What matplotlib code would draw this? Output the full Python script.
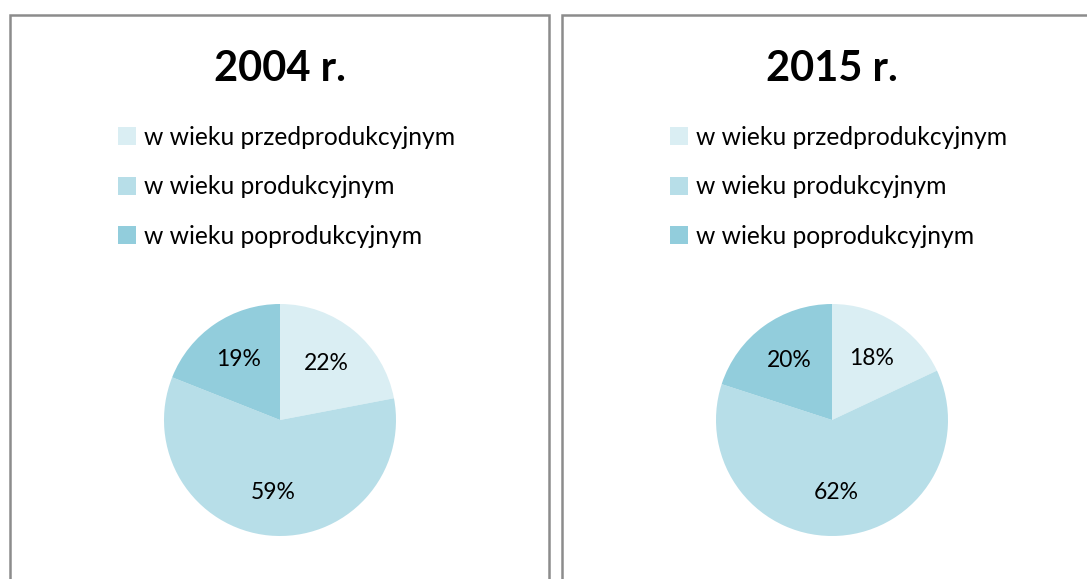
import matplotlib
matplotlib.use("Agg")
import matplotlib.pyplot as plt
from matplotlib.patches import Rectangle, Patch

plt.rcParams['font.family'] = ['Lato', 'DejaVu Sans']

# data
years = ['2004 r.', '2015 r.']
groups = ['w wieku przedprodukcyjnym', 'w wieku produkcyjnym', 'w wieku poprodukcyjnym']
shares_2004 = [22, 59, 19]
shares_2015 = [18, 62, 20]
colors = ['#DAEEF3', '#B7DEE8', '#92CDDC']

W, H = 1087, 579
fig = plt.figure(figsize=(W / 100, H / 100), dpi=100)

def px(x, y, w, h):
    # pixel box (top-left origin) -> figure fraction
    return [x / W, 1 - (y + h) / H, w / W, h / H]

# panel borders
for x0, x1 in [(10, 549), (562, 1100)]:
    b = px(x0, 15, x1 - x0, 600)
    fig.patches.append(Rectangle((b[0], b[1]), b[2], b[3], transform=fig.transFigure,
                                 fill=False, edgecolor='#8c8c8c', linewidth=1.8))

def makePie(cx, title, values):
    r = 116
    ax = fig.add_axes(px(cx - r, 420 - r, 2 * r, 2 * r))
    ax.pie(values, colors=colors, startangle=90, counterclock=False,
           autopct=lambda p: '%d%%' % round(p), pctdistance=0.63,
           textprops={'fontsize': 16.5, 'color': 'black'})
    ax.set_xlim(-1, 1)
    ax.set_ylim(-1, 1)
    ax.set_aspect('equal')
    fig.text(cx / W, 1 - 69 / H, title, ha='center', va='center',
             fontsize=30, fontweight='bold')
    handles = [Patch(facecolor=c, edgecolor='none') for c in colors]
    fig.legend(handles, groups, loc='upper left',
               bbox_to_anchor=((cx - 162) / W, 1 - 126 / H),
               frameon=False, fontsize=17.7, handlelength=0.75,
               handleheight=0.75, handletextpad=0.3, labelspacing=1.07,
               borderpad=0, borderaxespad=0)

makePie(280, years[0], shares_2004)
makePie(832, years[1], shares_2015)

fig.savefig('out.png', dpi=100)
